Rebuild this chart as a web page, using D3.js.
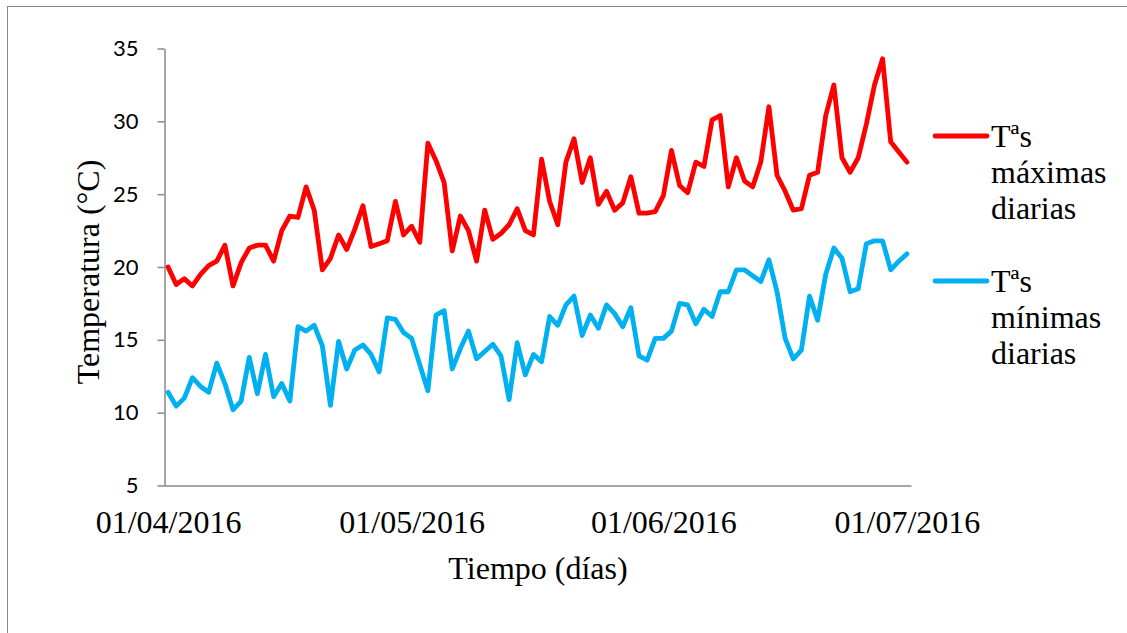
<!DOCTYPE html>
<html>
<head>
<meta charset="utf-8">
<script src="https://cdn.jsdelivr.net/npm/d3@7"></script>
<style>
  html, body { margin: 0; padding: 0; background: #fff; overflow: hidden; }
  svg { display: block; }
</style>
</head>
<body>
<svg id="chart" width="1127" height="633"></svg>
<script>
// Daily temperatures, 1 April – 1 July 2016 (one value per day)
const firstDay = "2016-04-01";
const tmax = [
  20.0, 18.8, 19.2, 18.7, 19.5, 20.1, 20.4, 21.5, 18.7, 20.3,
  21.3, 21.5, 21.5, 20.4, 22.5, 23.5, 23.4, 25.5, 23.9, 19.8,
  20.6, 22.2, 21.2, 22.6, 24.2, 21.4, 21.6, 21.8, 24.5, 22.2,
  22.8, 21.7, 28.5, 27.3, 25.8, 21.1, 23.5, 22.5, 20.4, 23.9,
  21.9, 22.3, 22.9, 24.0, 22.5, 22.2, 27.4, 24.5, 22.9, 27.2,
  28.8, 25.8, 27.5, 24.3, 25.2, 23.9, 24.4, 26.2, 23.7, 23.7,
  23.8, 24.9, 28.0, 25.6, 25.1, 27.2, 26.9, 30.1, 30.4, 25.5,
  27.5, 25.9, 25.5, 27.2, 31.0, 26.3, 25.2, 23.9, 24.0, 26.3,
  26.5, 30.4, 32.5, 27.5, 26.5, 27.5, 29.8, 32.5, 34.3, 28.6,
  27.9, 27.2
];
const tmin = [
  11.4, 10.45, 11.0, 12.4, 11.8, 11.4, 13.4, 12.0, 10.2, 10.8,
  13.8, 11.3, 14.0, 11.1, 12.0, 10.8, 15.9, 15.6, 16.0, 14.6,
  10.5, 14.9, 13.0, 14.3, 14.65, 14.0, 12.8, 16.5, 16.4, 15.5,
  15.1, 13.3, 11.5, 16.7, 17.0, 13.0, 14.4, 15.6, 13.7, 14.2,
  14.7, 13.9, 10.9, 14.8, 12.6, 14.0, 13.5, 16.6, 16.0, 17.4,
  18.0, 15.3, 16.7, 15.8, 17.4, 16.8, 15.9, 17.2, 13.9, 13.6,
  15.1, 15.1, 15.6, 17.5, 17.4, 16.1, 17.1, 16.6, 18.3, 18.3,
  19.8, 19.8, 19.4, 19.0, 20.5, 18.3, 15.1, 13.7, 14.3, 18.0,
  16.35, 19.5, 21.3, 20.6, 18.3, 18.5, 21.6, 21.8, 21.8, 19.8,
  20.4, 20.9
];
const yTicks = [5, 10, 15, 20, 25, 30, 35];
const xTickDates = ["2016-04-01", "2016-05-01", "2016-06-01", "2016-07-01"];
const seriesNames = [["Tªs", "máximas", "diarias"], ["Tªs", "mínimas", "diarias"]];
const seriesColors = ["#ff0000", "#00b0f0"];

const parse = d3.utcParse("%Y-%m-%d");
const fmt = d3.utcFormat("%d/%m/%Y");
const start = parse(firstDay);
const days = tmax.map((_, i) => d3.utcDay.offset(start, i));

const svg = d3.select("#chart");
const serif = "'Liberation Serif', 'Times New Roman', serif";
const sans = "Lato, 'Liberation Sans', sans-serif";

// chart frame
svg.append("rect")
  .attr("x", 7.5).attr("y", 6.5)
  .attr("width", 1140).attr("height", 640)
  .attr("fill", "none").attr("stroke", "#888").attr("stroke-width", 1);

// date axis: each day occupies one slot, points sit in the middle of it
const x = d3.scaleUtc()
  .domain([d3.utcHour.offset(start, -12), d3.utcHour.offset(days[days.length - 1], 12)])
  .range([164, 911]);
const y = d3.scaleLinear().domain([5, 35]).range([485.5, 48.5]);

// y axis
const yAxis = svg.append("g")
  .attr("transform", "translate(164.5,0)")
  .call(d3.axisLeft(y).tickValues(yTicks).tickSize(7).tickPadding(19).tickSizeOuter(0));
yAxis.select(".domain").attr("stroke", "#888").attr("stroke-width", 1.5);
yAxis.selectAll(".tick line").attr("stroke", "#888").attr("stroke-width", 1.5);
yAxis.selectAll(".tick text")
  .attr("font-family", sans).attr("font-size", 22).attr("fill", "#000");

// x axis
const xAxis = svg.append("g")
  .attr("transform", "translate(0,485.5)")
  .call(d3.axisBottom(x).tickValues(xTickDates.map(parse)).tickFormat(fmt)
    .tickSize(0).tickPadding(25).tickSizeOuter(0));
xAxis.select(".domain").attr("stroke", "#888").attr("stroke-width", 1.5);
xAxis.selectAll(".tick text")
  .attr("font-family", serif).attr("font-size", 32).attr("fill", "#000");

// axis titles
svg.append("text")
  .attr("transform", "translate(99,272) rotate(-90)")
  .attr("text-anchor", "middle")
  .attr("font-family", serif).attr("font-size", 32)
  .text("Temperatura (°C)");
svg.append("text")
  .attr("x", 538).attr("y", 579)
  .attr("text-anchor", "middle")
  .attr("font-family", serif).attr("font-size", 32)
  .text("Tiempo (días)");

// series lines
const line = d3.line()
  .x((d, i) => x(days[i]))
  .y(d => y(d));
[tmax, tmin].forEach((vals, k) => {
  svg.append("path")
    .datum(vals)
    .attr("d", line)
    .attr("fill", "none")
    .attr("stroke", seriesColors[k])
    .attr("stroke-width", 4.8)
    .attr("stroke-linejoin", "round")
    .attr("stroke-linecap", "round");
});

// legend
const legendY = [136, 281];
seriesNames.forEach((lines, k) => {
  const g = svg.append("g").attr("transform", `translate(0,${legendY[k]})`);
  g.append("line")
    .attr("x1", 935).attr("x2", 987)
    .attr("stroke", seriesColors[k]).attr("stroke-width", 4.8)
    .attr("stroke-linecap", "round");
  const t = g.append("text")
    .attr("font-family", serif).attr("font-size", 32).attr("fill", "#000");
  lines.forEach((s, j) => {
    t.append("tspan").attr("x", 991).attr("y", 11 + j * 36).text(s);
  });
});
</script>
</body>
</html>
